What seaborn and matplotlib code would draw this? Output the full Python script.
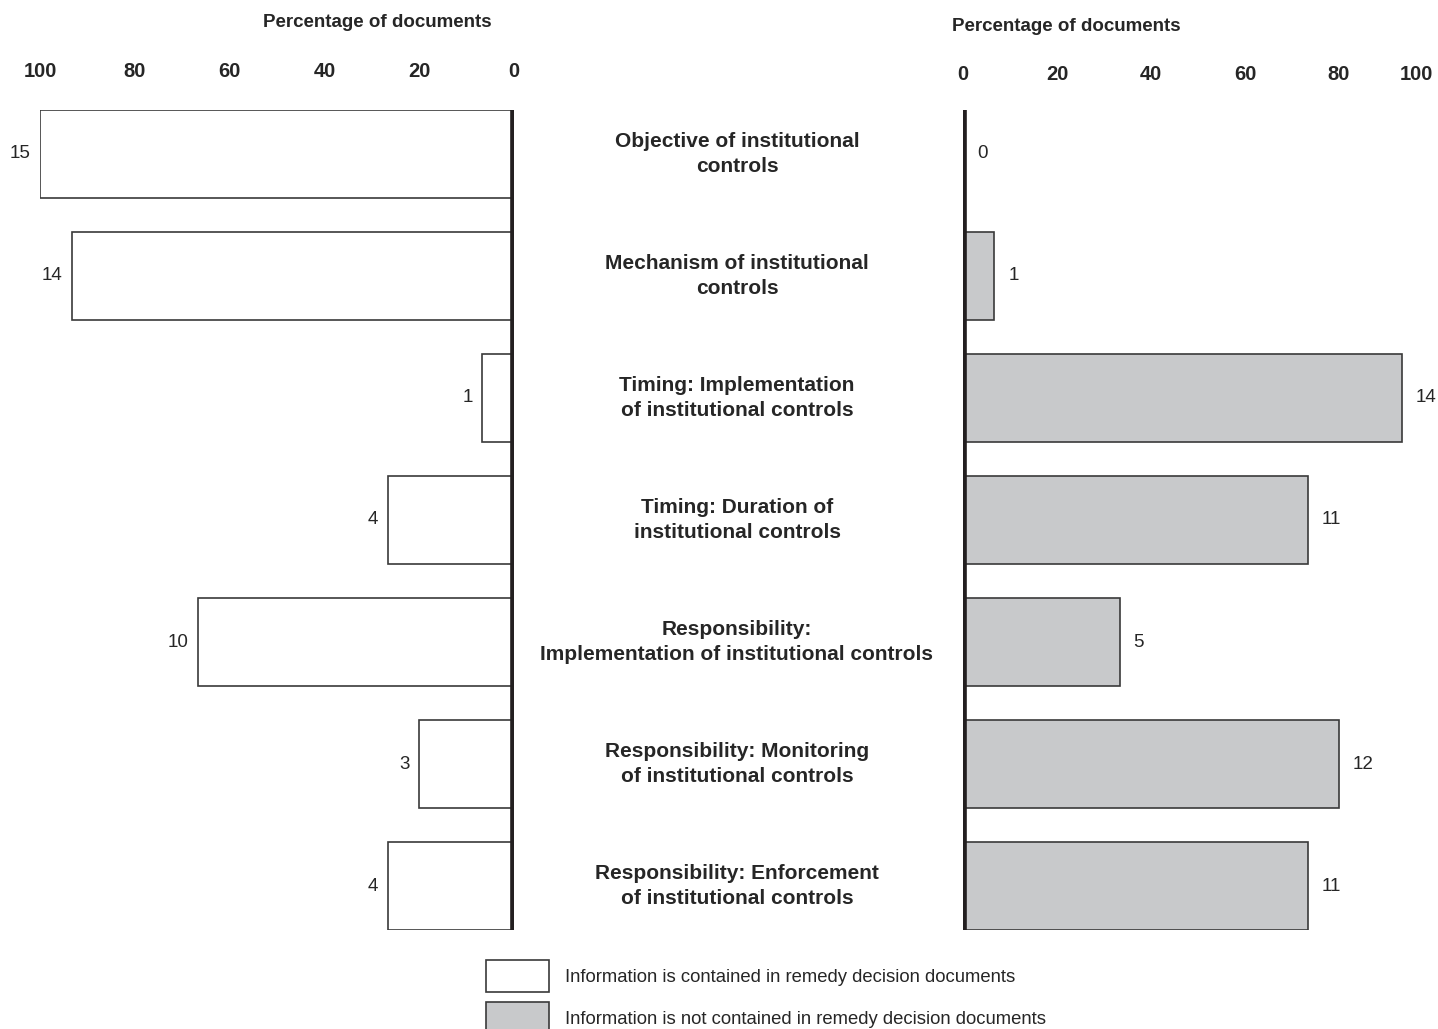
import pandas as pd
import matplotlib.pyplot as plt
import matplotlib.transforms as mtransforms
from matplotlib.patches import Patch
import seaborn as sns

categories = [
    "Objective of institutional\ncontrols",
    "Mechanism of institutional\ncontrols",
    "Timing: Implementation\nof institutional controls",
    "Timing: Duration of\ninstitutional controls",
    "Responsibility:\nImplementation of institutional controls",
    "Responsibility: Monitoring\nof institutional controls",
    "Responsibility: Enforcement\nof institutional controls",
]
contained = [15, 14, 1, 4, 10, 3, 4]
not_contained = [0, 1, 14, 11, 5, 12, 11]
total_docs = 15
ticks = [0, 20, 40, 60, 80, 100]
legend_labels = [
    "Information is contained in remedy decision documents",
    "Information is not contained in remedy decision documents",
]

df = pd.DataFrame({
    "category": categories,
    "contained": contained,
    "not_contained": not_contained,
})
df["pct_in"] = df["contained"] / total_docs * 100
df["pct_out"] = df["not_contained"] / total_docs * 100

sns.set_style("white")
plt.rcParams["font.family"] = ["Liberation Sans", "DejaVu Sans"]

edge = "#3a3a3a"
gray = "#c8c9cb"

fig = plt.figure(figsize=(14.38, 10.29), dpi=100)
ax_l = fig.add_axes([40 / 1438, 1 - 930 / 1029, 474 / 1438, 820 / 1029])
ax_r = fig.add_axes([963 / 1438, 1 - 930 / 1029, 470 / 1438, 820 / 1029])

sns.barplot(data=df, x="pct_in", y="category", ax=ax_l, color="white",
            saturation=1, edgecolor=edge, linewidth=1.2, width=0.72)
sns.barplot(data=df, x="pct_out", y="category", ax=ax_r, color=gray,
            saturation=1, edgecolor=edge, linewidth=1.2, width=0.72)

for ax, tpad in [(ax_l, 21), (ax_r, 19)]:
    ax.set_xlim(0, 100)
    ax.set_ylim(6.36, -0.36)
    ax.axvline(0, color="#231f20", lw=5.5, zorder=5)
    ax.xaxis.tick_top()
    ax.xaxis.set_label_position("top")
    ax.set_xticks(ticks)
    ax.set_xticklabels([str(t) for t in ticks], fontweight="bold", fontsize=14.5)
    ax.tick_params(axis="x", length=0, pad=tpad)
    ax.set_yticks([])
    ax.set_ylabel("")
    for s in ax.spines.values():
        s.set_visible(False)

ax_l.invert_xaxis()
ax_r.get_xticklabels()[-1].set_horizontalalignment("right")

# counts next to bar ends
for i, (p, c) in enumerate(zip(df["pct_in"], contained)):
    ax_l.annotate(str(c), (p, i), xytext=(-7, 0), textcoords="offset points",
                  ha="right", va="center", fontsize=13.5)
for i, (p, c) in enumerate(zip(df["pct_out"], not_contained)):
    ax_r.annotate(str(c), (p, i), xytext=(10, 0), textcoords="offset points",
                  ha="left", va="center", fontsize=13.5)

ax_l.set_xlabel("Percentage of documents", fontweight="bold", fontsize=13.5, loc="right")
ax_l.xaxis.set_label_coords((492 - 40) / 474, 1 + (110 - 27) / 820)
ax_r.set_xlabel("Percentage of documents", fontweight="bold", fontsize=13.5, loc="left")
ax_r.xaxis.set_label_coords((952 - 963) / 470, 1 + (110 - 31) / 820)

trans = mtransforms.blended_transform_factory(fig.transFigure, ax_r.transData)
for i, cat in enumerate(categories):
    fig.text(737 / 1438, i, cat, transform=trans, ha="center", va="center",
             fontweight="bold", fontsize=15, linespacing=1.42)

handles = [Patch(facecolor="white", edgecolor=edge, linewidth=1.2),
           Patch(facecolor=gray, edgecolor=edge, linewidth=1.2)]
fig.legend(handles, legend_labels, loc="upper left",
           bbox_to_anchor=(486 / 1438, 1 - 960 / 1029), frameon=False,
           fontsize=13.3, handlelength=3.4, handleheight=2.28,
           handletextpad=0.9, labelspacing=0.54, borderpad=0, borderaxespad=0)

fig.savefig("out.png", dpi=100)
